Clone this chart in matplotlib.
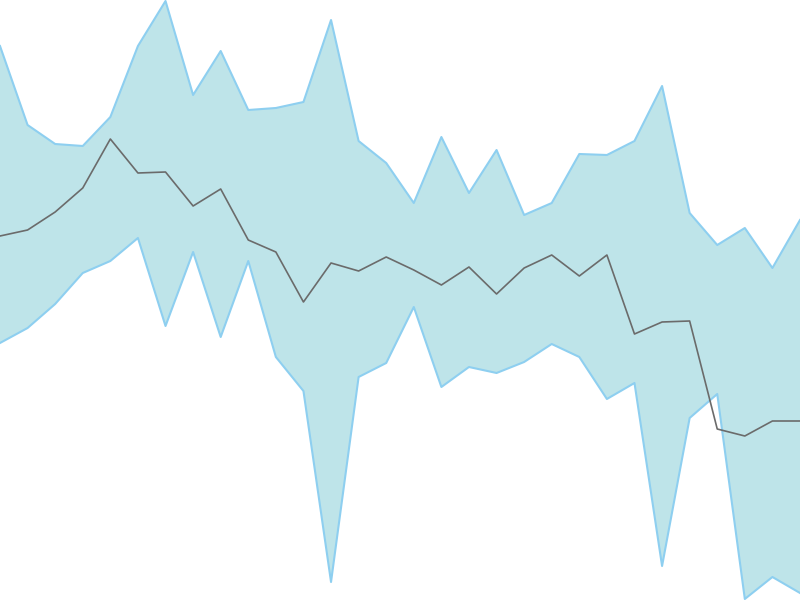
import matplotlib
matplotlib.use("Agg")
import matplotlib.pyplot as plt
import numpy as np

# values (pixel-height units, 0 = bottom, 600 = top)
x = list(range(30))
upper_px = [46, 125, 144, 146, 117, 46, 1, 95, 51, 110, 108, 102, 20, 141, 163,
            203, 137, 193, 150, 215, 203, 154, 155, 141, 86, 213, 245, 228, 268, 220]
lower_px = [343, 328, 304, 273, 261, 238, 326, 252, 337, 261, 357, 391, 582, 377, 363,
            307, 387, 367, 373, 362, 344, 357, 399, 383, 566, 418, 394, 599, 577, 593]
mid_px = [236, 230, 212, 188, 139, 173, 172, 206, 189, 240, 252, 302, 263, 271, 257,
          270, 285, 267, 294, 268, 255, 276, 255, 334, 322, 321, 429, 436, 421, 421]

upper = [600 - v for v in upper_px]
lower = [600 - v for v in lower_px]
mid = [600 - v for v in mid_px]

fig = plt.figure(figsize=(8, 6), dpi=100)
ax = fig.add_axes([0, 0, 1, 1])
ax.fill_between(x, lower, upper, color="#bee4e9", linewidth=0)
ax.plot(x, upper, color="#8ecff0", linewidth=1.5)
ax.plot(x, lower, color="#8ecff0", linewidth=1.5)
ax.plot(x, mid, color="#6b6b6b", linewidth=1.2)
ax.set_xlim(0, 29)
ax.set_ylim(0, 600)
ax.axis("off")
fig.savefig("out.png", dpi=100)
